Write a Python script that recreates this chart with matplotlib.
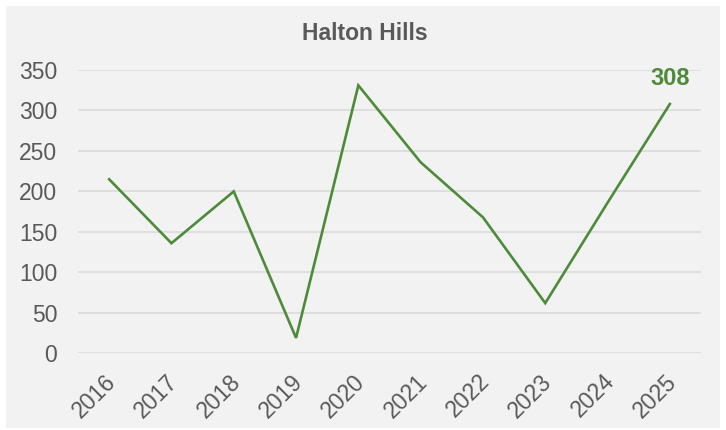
import matplotlib
matplotlib.use('Agg')
import matplotlib.pyplot as plt
from matplotlib.patches import Rectangle
from matplotlib.transforms import ScaledTranslation

# --- データ ---
years = ['2016', '2017', '2018', '2019', '2020', '2021', '2022', '2023', '2024', '2025']
values = [215, 136, 200, 19, 331, 236, 168, 62, 186, 308]
title = 'Halton Hills'
yticks = [0, 50, 100, 150, 200, 250, 300, 350]

LINE_COLOR = '#4d8b3a'
TEXT_COLOR = '#595959'
GRID_COLOR = '#d9d9d9'
PANEL_COLOR = '#f2f2f2'

plt.rcParams['font.family'] = ['Liberation Sans', 'DejaVu Sans']

fig = plt.figure(figsize=(7.26, 4.30), dpi=100, facecolor='white')

# 背景パネル（周囲に白い余白を残す）
fig.patches.append(Rectangle((6 / 726, 2 / 430), 714 / 726, 422 / 430,
                             transform=fig.transFigure, facecolor=PANEL_COLOR,
                             edgecolor='none', zorder=-10))

ax = fig.add_axes([78 / 726, 1 - 353.3 / 430, 623 / 726, 283.3 / 430])
ax.patch.set_alpha(0)

x = list(range(len(years)))
ax.plot(x, values, color=LINE_COLOR, linewidth=1.9, solid_joinstyle='miter', zorder=3)

# 最終年の値ラベル
ax.annotate(str(values[-1]), (x[-1], values[-1]), xytext=(0, 18.5), textcoords='offset points',
            ha='center', va='center', color=LINE_COLOR, fontsize=17, fontweight='bold')

ax.set_xlim(-0.5, len(years) - 0.5)
ax.set_ylim(0, 350)
ax.set_yticks(yticks)
ax.set_yticklabels([str(v) for v in yticks])
ax.set_xticks(x)
ax.set_xticklabels(years, rotation=45, ha='right', rotation_mode='anchor')
ax.tick_params(axis='both', length=0, labelsize=16.5, labelcolor=TEXT_COLOR)
ax.tick_params(axis='y', pad=15)
ax.tick_params(axis='x', pad=12)

# 年ラベルを少し左へずらす
shift = ScaledTranslation(-5 / 100, 0, fig.dpi_scale_trans)
for lbl in ax.get_xticklabels():
    lbl.set_transform(lbl.get_transform() + shift)

ax.grid(axis='y', color=GRID_COLOR, linewidth=1.1)
ax.set_axisbelow(True)
for s in ax.spines.values():
    s.set_visible(False)

fig.text(0.502, 1 - 33 / 430, title, ha='center', va='center',
         fontsize=16.5, fontweight='bold', color=TEXT_COLOR)

fig.savefig('out.png', dpi=100, facecolor='white')
